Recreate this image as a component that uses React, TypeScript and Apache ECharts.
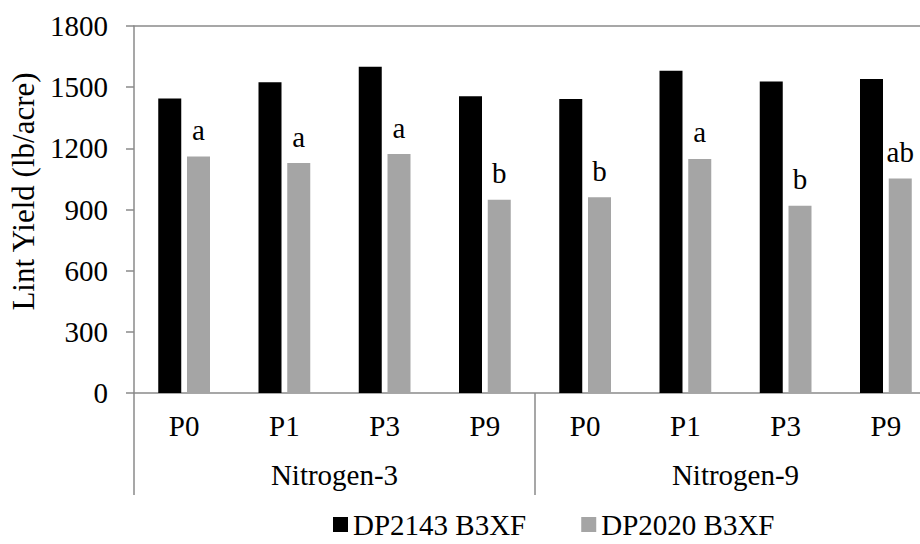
import React, { useEffect, useRef } from "react";
import * as echarts from "echarts";

const treatments = ["P0", "P1", "P3", "P9", "P0", "P1", "P3", "P9"];
const groups = ["Nitrogen-3", "Nitrogen-9"];
const seriesNames = ["DP2143 B3XF", "DP2020 B3XF"];
const dp2143 = [1445, 1524, 1600, 1455, 1442, 1580, 1528, 1540];
const dp2020 = [1160, 1128, 1172, 948, 960, 1148, 918, 1052];
const letters = ["a", "a", "a", "b", "b", "a", "b", "ab"];
const yTicks = { min: 0, max: 1800, interval: 300 };

const FONT = '"Liberation Serif", "Times New Roman", serif';
const AXIS = "#8a8a8a";
const FS = 29;

export default function App() {
  const ref = useRef<HTMLDivElement>(null);
  useEffect(() => {
    if (!ref.current) return;
    const chart = echarts.init(ref.current, undefined, { renderer: "svg" });
    chart.setOption({
      animation: false,
      backgroundColor: "#ffffff",
      textStyle: { fontFamily: FONT },
      grid: { left: 134, top: 26, right: 0, bottom: 151, containLabel: false },
      legend: {
        bottom: 0,
        left: 328,
        icon: "rect",
        itemWidth: 15,
        itemHeight: 15,
        itemGap: 55,
        textStyle: { fontFamily: FONT, fontSize: FS, color: "#000" },
        data: seriesNames,
      },
      xAxis: [
        {
          type: "category",
          data: treatments,
          position: "bottom",
          axisLine: { show: true, lineStyle: { color: AXIS, width: 1.5 } },
          axisTick: { show: false },
          axisLabel: { margin: 18, fontSize: FS, color: "#000", fontFamily: FONT },
        },
        {
          type: "category",
          data: groups,
          position: "bottom",
          axisLine: { show: false },
          axisTick: { show: true, length: 102, lineStyle: { color: AXIS, width: 1.5 } },
          axisLabel: { margin: 67, fontSize: FS, color: "#000", fontFamily: FONT },
        },
        {
          type: "category",
          data: groups,
          position: "top",
          axisLine: { show: true, lineStyle: { color: AXIS, width: 1.5 } },
          axisTick: { show: false },
          axisLabel: { show: false },
        },
      ],
      yAxis: {
        type: "value",
        min: yTicks.min,
        max: yTicks.max,
        interval: yTicks.interval,
        name: "Lint Yield (lb/acre)",
        nameLocation: "middle",
        nameGap: 92,
        nameTextStyle: {
          fontSize: 31,
          color: "#000",
          fontFamily: FONT,
          padding: [0, 0, 0, 36],
        },
        axisLine: { show: true, lineStyle: { color: AXIS, width: 1.5 } },
        axisTick: { show: true, length: 8, lineStyle: { color: AXIS, width: 1.5 } },
        axisLabel: {
          margin: 26,
          fontSize: FS,
          color: "#000",
          fontFamily: FONT,
          formatter: (v: number) => String(v),
        },
        splitLine: { show: false },
      },
      series: [
        {
          name: seriesNames[0],
          type: "bar",
          xAxisIndex: 0,
          data: dp2143,
          itemStyle: { color: "#000000" },
          barWidth: 23,
          barGap: "25%",
        },
        {
          name: seriesNames[1],
          type: "bar",
          xAxisIndex: 0,
          data: dp2020,
          itemStyle: { color: "#a5a5a5" },
          barWidth: 23,
          barGap: "25%",
          label: {
            show: true,
            position: "top",
            distance: 12,
            fontSize: FS,
            color: "#000",
            fontFamily: FONT,
            formatter: (p: any) => letters[p.dataIndex],
          },
        },
      ],
    });
    return () => chart.dispose();
  }, []);
  return (
    <div style={{ position: "fixed", left: 0, top: 0, width: 920, height: 544, overflow: "hidden" }}>
      <div ref={ref} style={{ width: 936, height: 544 }} />
    </div>
  );
}
